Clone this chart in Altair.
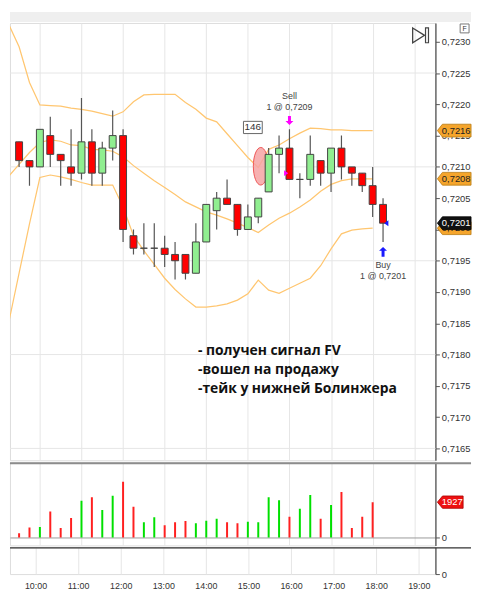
import altair as alt
import pandas as pd

# ---------------- data ----------------
bar_times = ["09:30", "09:45", "10:00", "10:15", "10:30", "10:45", "11:00", "11:15", "11:30",
             "11:45", "12:00", "12:15", "12:30", "12:45", "13:00", "13:15", "13:30", "13:45",
             "14:00", "14:15", "14:30", "14:45", "15:00", "15:15", "15:30", "15:45", "16:00",
             "16:15", "16:30", "16:45", "17:00", "17:15", "17:30", "17:45", "18:00", "18:15"]
opens = [0.7214, 0.7211, 0.7210, 0.7215, 0.7212, 0.7210, 0.7209, 0.7214, 0.7209, 0.7213,
         0.7215, 0.7199, 0.7197, 0.7197, 0.7197, 0.7196, 0.7196, 0.7193, 0.7198, 0.7203,
         0.7205, 0.7204, 0.7200, 0.7202, 0.7206, 0.7212, 0.7213, 0.7208, 0.7208, 0.7211,
         0.7209, 0.7213, 0.7210, 0.7209, 0.7207, 0.7204]
highs = [0.7214, 0.7211, 0.7216, 0.7218, 0.7212, 0.7216, 0.7221, 0.7216, 0.7214, 0.7219,
         0.7216, 0.7200, 0.7201, 0.7201, 0.7199, 0.7198, 0.7196, 0.7201, 0.7204, 0.7206,
         0.7208, 0.7204, 0.7204, 0.7205, 0.7213, 0.7215, 0.7216, 0.7209, 0.7215, 0.7211,
         0.7213, 0.7215, 0.7210, 0.7209, 0.7210, 0.7205]
lows = [0.7210, 0.7207, 0.7210, 0.7210, 0.7207, 0.7207, 0.7208, 0.7207, 0.7207, 0.7211,
        0.7198, 0.7196, 0.7196, 0.7194, 0.7194, 0.7192, 0.7192, 0.7193, 0.7198, 0.7200,
        0.7204, 0.7199, 0.7200, 0.7201, 0.7206, 0.7209, 0.7208, 0.7205, 0.7207, 0.7207,
        0.7206, 0.7208, 0.7207, 0.7206, 0.7202, 0.7198]
closes = [0.7211, 0.7210, 0.7216, 0.7212, 0.7211, 0.7209, 0.7214, 0.7209, 0.7213, 0.7215,
          0.7200, 0.7197, 0.7197, 0.7197, 0.7196, 0.7195, 0.7193, 0.7198, 0.7204, 0.7205,
          0.7204, 0.7200, 0.7202, 0.7205, 0.7212, 0.7213, 0.7208, 0.7208, 0.7212, 0.7209,
          0.7213, 0.7210, 0.7209, 0.7207, 0.7204, 0.7201]
# volume bars exist for 09:30 .. 18:00
volumes = [234, 540, 576, 1423, 522, 1063, 1999, 2197, 1495, 2269, 3044, 1675, 828, 1099,
           666, 828, 900, 774, 918, 1026, 828, 774, 864, 828, 2197, 2035, 1135, 1567, 2323,
           1026, 1765, 2485, 522, 1135, 1927]

band_times = ["09:15", "09:30", "09:45", "10:00", "10:15", "10:30", "10:45", "11:00", "11:15",
              "11:30", "11:45", "12:00", "12:15", "12:30", "12:45", "13:00", "13:15", "13:30",
              "13:45", "14:00", "14:15", "14:30", "14:45", "15:00", "15:15", "15:30", "15:45",
              "16:00", "16:15", "16:30", "16:45", "17:00", "17:15", "17:30", "17:45", "18:00"]
upper = [0.72328, 0.72292, 0.72235, 0.72199, 0.72198, 0.72197, 0.72194, 0.72192, 0.72189,
         0.72185, 0.72181, 0.72188, 0.72204, 0.72215, 0.72216, 0.72216, 0.72216, 0.72203,
         0.72192, 0.72178, 0.72172, 0.72153, 0.72134, 0.72115, 0.72099, 0.72128, 0.72135,
         0.72145, 0.72154, 0.72162, 0.72161, 0.72159, 0.72159, 0.72158, 0.72158, 0.72158]
middle = [0.72085, 0.72104, 0.72123, 0.72139, 0.72143, 0.72141, 0.72135, 0.72134, 0.72128,
          0.72127, 0.72125, 0.72116, 0.72102, 0.72090, 0.72078, 0.72067, 0.72056, 0.72044,
          0.72036, 0.72028, 0.72023, 0.72017, 0.72010, 0.72003, 0.71995, 0.72007, 0.72018,
          0.72026, 0.72036, 0.72047, 0.72061, 0.72072, 0.72078, 0.72081, 0.72081, 0.72081]
lower = [0.71851, 0.71930, 0.72009, 0.72083, 0.72087, 0.72084, 0.72080, 0.72075, 0.72071,
         0.72071, 0.72071, 0.72036, 0.71990, 0.71966, 0.71944, 0.71922, 0.71904, 0.71889,
         0.71876, 0.71876, 0.71878, 0.71881, 0.71887, 0.71897, 0.71919, 0.71903, 0.71898,
         0.71906, 0.71914, 0.71922, 0.71942, 0.71969, 0.71993, 0.71999, 0.72001, 0.72002]

price_ticks = [0.7165, 0.7170, 0.7175, 0.7180, 0.7185, 0.7190, 0.7195, 0.7200, 0.7205,
               0.7210, 0.7215, 0.7220, 0.7225, 0.7230]
grid_prices = [0.7225, 0.7210, 0.7195, 0.7180, 0.7165]
hour_ticks = [10, 11, 12, 13, 14, 15, 16, 17, 18, 19]

sell_time, sell_price, sell_text = "16:00", 0.7209, ["Sell", "1 @ 0,7209"]
buy_time, buy_price, buy_text = "18:15", 0.7201, ["Buy", "1 @ 0,7201"]
counter_label, counter_time, counter_price = "146", 15.12, 0.72163
ellipse_time, ellipse_price = 15.31, 0.72101
notes = ["- получен сигнал FV", "-вошел на продажу", "-тейк у нижней Болинжера"]
note_time = 13.80
note_prices = [0.71806, 0.71775, 0.71745]

# ---------------- helpers ----------------
def hrs(s):
    h, m = s.split(":")
    return int(h) + int(m) / 60.0

def fmt(v):
    return f"{v:.4f}".replace(".", ",")

X_DOMAIN = [9.40, 19.39]
P_DOMAIN = [0.71631, 0.72330]
V_DOMAIN = [-432, 4102]
W = 430

UP, DOWN = "#90ee90", "#ff0000"
VUP, VDOWN = "#00e000", "#ff2020"
BAND = "#ffc670"
FONT = "Liberation Sans"

def xaxis(labels=False):
    return alt.Axis(values=hour_ticks, grid=True, gridColor="#e6e6e6", gridWidth=1,
                    labels=labels, ticks=False, domain=False, title=None, labelFlush=False,
                    labelExpr="datum.value + ':00'", labelFontSize=9, labelColor="#333",
                    labelPadding=8, labelFont=FONT)

xs = alt.Scale(domain=X_DOMAIN, nice=False, zero=False)

def X(field="t", labels=False):
    return alt.X(f"{field}:Q", scale=xs, axis=xaxis(labels))

yaxis_main = alt.Axis(orient="right", values=price_ticks, grid=False, tickSize=4,
                      tickColor="#555", domainColor="#555", domainWidth=1.3, labelColor="#333",
                      labelFontSize=9.5, labelPadding=2, labelFont=FONT, title=None,
                      labelExpr="replace(format(datum.value, '.4f'), '.', ',')")
ps = alt.Scale(domain=P_DOMAIN, nice=False, zero=False)

def Y(field):
    return alt.Y(f"{field}:Q", scale=ps, axis=yaxis_main)

dummy = pd.DataFrame({"a": [0]})

# ---------------- frames ----------------
cdf = pd.DataFrame({"t": [hrs(s) for s in bar_times], "open": opens, "high": highs,
                    "low": lows, "close": closes})
cdf["fillc"] = [UP if c >= o else DOWN for o, c in zip(opens, closes)]

bdf = pd.DataFrame({"t": [hrs(s) for s in band_times] * 3,
                    "p": upper + middle + lower,
                    "band": ["upper"] * len(upper) + ["middle"] * len(middle) + ["lower"] * len(lower)})

vdf = pd.DataFrame({"t": [hrs(s) for s in bar_times[:len(volumes)]], "v": volumes,
                    "volc": [VUP if c >= o else VDOWN for o, c in zip(opens[:len(volumes)], closes[:len(volumes)])]})

# ---------------- main panel ----------------
header = alt.Chart(dummy).mark_rect(color="#efefef").encode(
    x=alt.value(0), x2=alt.value(466), y=alt.value(-11), y2=alt.value(-1))

hgrid = alt.Chart(pd.DataFrame({"p": grid_prices})).mark_rule(color="#e6e6e6", strokeWidth=1).encode(
    x=alt.value(0), x2=alt.value(W), y=Y("p"))

xgrid = alt.Chart(pd.DataFrame({"t": hour_ticks, "p": [0.7200] * len(hour_ticks)})).mark_point(
    opacity=0, size=1).encode(x=X(), y=Y("p"))

bands = alt.Chart(bdf).mark_line(color=BAND, strokeWidth=1.25, clip=True).encode(
    x=X(), y=Y("p"), detail="band:N")

ell = alt.Chart(pd.DataFrame({"t": [ellipse_time], "p": [ellipse_price]})).mark_point(
    shape="M-0.395,0A0.395,1,0,1,0,0.395,0A0.395,1,0,1,0,-0.395,0Z", size=1444, filled=True,
    fill="#f6a3a3", fillOpacity=0.85, stroke="#ee5555", strokeWidth=1, clip=True).encode(
    x=X(), y=Y("p"))

wicks = alt.Chart(cdf).mark_rule(color="#555", strokeWidth=1.2, clip=True).encode(
    x=X(), y=Y("low"), y2="high:Q")

bodies = alt.Chart(cdf).mark_bar(size=7, stroke="#444", strokeWidth=1, clip=True).encode(
    x=X(), y=Y("open"), y2="close:Q", fill=alt.Fill("fillc:N", scale=None))

si = bar_times.index(sell_time)
bi = bar_times.index(buy_time)
sell_df = pd.DataFrame({"t": [hrs(sell_time)], "hi": [highs[si]], "fill": [sell_price]})
buy_df = pd.DataFrame({"t": [hrs(buy_time)], "lo": [lows[bi]], "fill": [buy_price]})

txt = dict(font=FONT, fontSize=9, color="#444", align="center", baseline="middle")
sell_t1 = alt.Chart(sell_df).mark_text(text=sell_text[0], dy=-34, **txt).encode(x=X(), y=Y("hi"))
sell_t2 = alt.Chart(sell_df).mark_text(text=sell_text[1], dy=-23, **txt).encode(x=X(), y=Y("hi"))
sell_arrow = alt.Chart(sell_df).mark_point(
    shape="M-0.3,-2.7L0.3,-2.7L0.3,-1.7L0.8,-1.7L0,-0.9L-0.8,-1.7L-0.3,-1.7Z", size=100,
    filled=True, color="#ff00ff", opacity=1).encode(x=X(), y=Y("hi"))
sell_fill = alt.Chart(sell_df).mark_point(
    shape="M-1.8,-1L-0.4,0L-1.8,1Z", size=36, filled=True, color="#ff00ff", opacity=1).encode(
    x=X(), y=Y("fill"))

buy_t1 = alt.Chart(buy_df).mark_text(text=buy_text[0], dy=23, **txt).encode(x=X(), y=Y("lo"))
buy_t2 = alt.Chart(buy_df).mark_text(text=buy_text[1], dy=34, **txt).encode(x=X(), y=Y("lo"))
buy_arrow = alt.Chart(buy_df).mark_point(
    shape="M-0.3,3L0.3,3L0.3,1.8L0.8,1.8L0,1L-0.8,1.8L-0.3,1.8Z", size=100,
    filled=True, color="#1a1aff", opacity=1).encode(x=X(), y=Y("lo"))
buy_fill = alt.Chart(buy_df).mark_point(
    shape="M1.8,-1L0.4,0L1.8,1Z", size=36, filled=True, color="#1a1aff", opacity=1).encode(
    x=X(), y=Y("fill"))

cnt_df = pd.DataFrame({"t": [counter_time], "p": [counter_price], "s": [counter_label]})
cnt_box = alt.Chart(cnt_df).mark_point(
    shape="M-1,-0.65L1,-0.65L1,0.65L-1,0.65Z", size=361, filled=True, fill="white",
    stroke="#666", strokeWidth=1, opacity=1).encode(x=X(), y=Y("p"))
cnt_txt = alt.Chart(cnt_df).mark_text(font=FONT, fontSize=10, color="#333", align="center",
                                      baseline="middle").encode(x=X(), y=Y("p"), text="s:N")

note_df = pd.DataFrame({"t": [note_time] * len(notes), "p": note_prices, "s": notes})
note_txt = alt.Chart(note_df).mark_text(font="Open Sans", fontSize=14, fontWeight="bold",
                                        color="#111", align="left", baseline="middle").encode(
    x=X(), y=Y("p"), text="s:N")

# price tags on the right axis
TAG = "M-1,0L-0.7,-0.38L1,-0.38L1,0.38L-0.7,0.38Z"
band_tags = pd.DataFrame({"p": [upper[-1], middle[-1], lower[-1]]})
band_tags["s"] = [fmt(v) for v in band_tags["p"]]
last_tag = pd.DataFrame({"p": [closes[-1]], "s": [fmt(closes[-1])]})

btag = alt.Chart(band_tags).mark_point(shape=TAG, size=1156, filled=True, fill="#f5a52c",
                                       stroke="#b87a10", strokeWidth=0.8, opacity=1).encode(
    x=alt.value(449), y=Y("p"))
btag_t = alt.Chart(band_tags).mark_text(font=FONT, fontSize=9.5, color="#222", align="center",
                                        baseline="middle").encode(x=alt.value(451), y=Y("p"), text="s:N")
ltag = alt.Chart(last_tag).mark_point(shape=TAG, size=1156, filled=True, fill="#111111",
                                      stroke="#000", strokeWidth=0.8, opacity=1).encode(
    x=alt.value(449), y=Y("p"))
ltag_t = alt.Chart(last_tag).mark_text(font=FONT, fontSize=9.5, color="white", align="center",
                                       baseline="middle").encode(x=alt.value(451), y=Y("p"), text="s:N")

# small chart-trader icons
play = alt.Chart(dummy).mark_point(shape="M-0.8,-1L0.8,0L-0.8,1Z", size=225, filled=False,
                                   color="#444", strokeWidth=1.3, opacity=1).encode(
    x=alt.value(413), y=alt.value(12.5))
play_bar = alt.Chart(dummy).mark_rect(fill="white", stroke="#444", strokeWidth=1.2).encode(
    x=alt.value(420), x2=alt.value(423), y=alt.value(5), y2=alt.value(20))
fbox = alt.Chart(dummy).mark_rect(fill="white", stroke="#777", strokeWidth=1).encode(
    x=alt.value(455), x2=alt.value(464), y=alt.value(1), y2=alt.value(10))
ftxt = alt.Chart(dummy).mark_text(text="F", font=FONT, fontSize=7, color="#333",
                                  align="center", baseline="middle").encode(
    x=alt.value(459.5), y=alt.value(5.7))

main = alt.layer(header, hgrid, xgrid, bands, ell, wicks, bodies,
                 sell_arrow, sell_t1, sell_t2, sell_fill,
                 buy_arrow, buy_t1, buy_t2, buy_fill,
                 cnt_box, cnt_txt, note_txt,
                 btag, btag_t, ltag, ltag_t, play, play_bar, fbox, ftxt).properties(width=W, height=442)

# ---------------- volume panel ----------------
vs = alt.Scale(domain=V_DOMAIN, nice=False, zero=False)
vaxis = alt.Axis(orient="right", values=[0], grid=True, gridColor="#9a9a9a", gridWidth=1,
                 tickSize=4, tickColor="#555", domainColor="#555", domainWidth=1.3,
                 labelColor="#333", labelFontSize=9.5, labelPadding=2, labelFont=FONT, title=None)

vbars = alt.Chart(vdf).mark_bar(size=2, clip=True).encode(
    x=X(), y=alt.Y("v:Q", scale=vs, axis=vaxis, stack=None),
    fill=alt.Fill("volc:N", scale=None))

vsep = alt.Chart(dummy).mark_rule(color="#8c8c8c", strokeWidth=2).encode(
    x=alt.value(0), x2=alt.value(466), y=alt.value(1))

vlast = pd.DataFrame({"v": [volumes[-1]], "s": [str(volumes[-1])]})
vtag = alt.Chart(vlast).mark_point(shape="M-1,0L-0.6,-0.48L1,-0.48L1,0.48L-0.6,0.48Z", size=676,
                                   filled=True, fill="#ee1111", stroke="#aa0000", strokeWidth=0.8,
                                   opacity=1).encode(
    x=alt.value(445), y=alt.Y("v:Q", scale=vs, axis=vaxis))
vtag_t = alt.Chart(vlast).mark_text(font=FONT, fontSize=9.5, color="white", align="center",
                                    baseline="middle").encode(
    x=alt.value(447), y=alt.Y("v:Q", scale=vs, axis=vaxis), text="s:N")

vol = alt.layer(vbars, vsep, vtag, vtag_t).properties(width=W, height=84)

# ---------------- empty indicator panel with time axis ----------------
baxis = alt.Axis(orient="right", values=[0], grid=False, tickSize=4, tickColor="#555",
                 domainColor="#555", domainWidth=1.3, labelColor="#333", labelFontSize=9.5,
                 labelPadding=2, labelFont=FONT, title=None)
bpts = alt.Chart(pd.DataFrame({"t": hour_ticks, "z": [0.5] * len(hour_ticks)})).mark_point(
    opacity=0, size=1).encode(x=X(labels=True),
                              y=alt.Y("z:Q", scale=alt.Scale(domain=[0, 1], nice=False), axis=baxis))
bsep = alt.Chart(dummy).mark_rule(color="#333", strokeWidth=1.2).encode(
    x=alt.value(0), x2=alt.value(466), y=alt.value(0.6))
bottom = alt.layer(bpts, bsep).properties(width=W, height=27)

chart = alt.vconcat(main, vol, bottom, spacing=0, padding=0).configure_view(
    stroke=None).configure(font=FONT)

chart.save("out.html", embed_options={"renderer": "svg", "actions": False})
